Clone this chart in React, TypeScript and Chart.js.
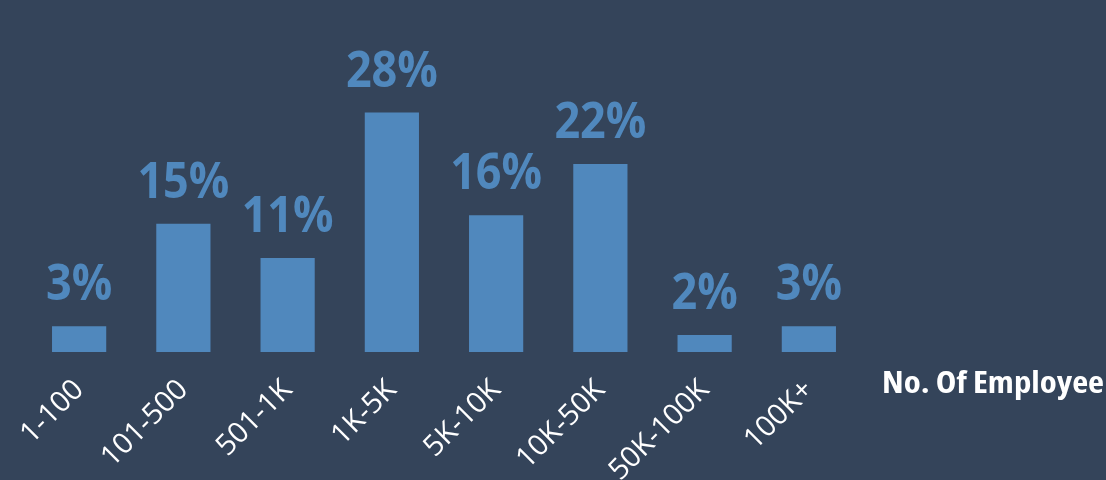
import React, { useEffect, useRef } from "react";
import { Chart, registerables } from "chart.js";

Chart.register(...registerables);

const categories = ["1-100", "101-500", "501-1K", "1K-5K", "5K-10K", "10K-50K", "50K-100K", "100K+"];
const shares = [3, 15, 11, 28, 16, 22, 2, 3];
const axisTitle = "No. Of Employee";

const BG = "#34445a";
const BAR = "#5088bd";
const LABEL = "#5088bd";

const bgPlugin = {
  id: "bg",
  beforeDraw(chart: any) {
    const { ctx, width, height } = chart;
    ctx.save();
    ctx.fillStyle = BG;
    ctx.fillRect(0, 0, width, height);
    ctx.restore();
  },
};

const labelPlugin = {
  id: "valueLabels",
  afterDatasetsDraw(chart: any) {
    const { ctx, chartArea } = chart;
    const meta = chart.getDatasetMeta(0);
    meta.data.forEach((bar: any, i: number) => {
      ctx.save();
      ctx.fillStyle = LABEL;
      ctx.font = "bold 50px 'Open Sans'";
      ctx.textAlign = "center";
      ctx.textBaseline = "alphabetic";
      ctx.translate(bar.x, bar.y - 26);
      ctx.scale(0.9, 1);
      ctx.fillText(`${shares[i]}%`, 0, 0);
      ctx.restore();
    });

    ctx.save();
    ctx.fillStyle = "#ffffff";
    ctx.font = "bold 31px 'Open Sans'";
    try {
      (ctx as any).fontStretch = "condensed";
    } catch (e) {}
    ctx.textAlign = "left";
    ctx.textBaseline = "alphabetic";
    const x0 = chartArea.right + 21;
    const target = 222;
    const w = ctx.measureText(axisTitle).width;
    ctx.translate(x0, chartArea.bottom + 41);
    ctx.scale(target / w, 1);
    ctx.fillText(axisTitle, 0, 0);
    ctx.restore();
  },
};

export default function App() {
  const ref = useRef<HTMLCanvasElement | null>(null);
  useEffect(() => {
    document.body.style.margin = "0";
    document.body.style.background = BG;
    const chart = new Chart(ref.current as HTMLCanvasElement, {
      type: "bar",
      data: {
        labels: categories,
        datasets: [
          {
            data: shares,
            backgroundColor: BAR,
            borderWidth: 0,
            categoryPercentage: 1,
            barPercentage: 0.52,
          },
        ],
      },
      options: {
        animation: false,
        responsive: false,
        devicePixelRatio: 1,
        layout: { padding: { left: 27, right: 245, top: 10, bottom: 0 } },
        plugins: { legend: { display: false }, tooltip: { enabled: false }, title: { display: false } },
        scales: {
          x: {
            grid: { display: false },
            border: { display: false },
            ticks: {
              color: "#ffffff",
              font: { family: "'Open Sans'", size: 29, weight: "normal" },
              minRotation: 45,
              maxRotation: 45,
              padding: 13,
              autoSkip: false,
            },
            afterFit(scale: any) {
              scale.height = 128;
            },
          },
          y: { display: false, min: 0, max: 40 },
        },
      },
      plugins: [bgPlugin, labelPlugin],
    });
    return () => chart.destroy();
  }, []);
  return (
    <div style={{ position: "fixed", left: 0, top: 0, width: 1106, height: 480 }}>
      <canvas ref={ref} width={1106} height={480} style={{ width: 1106, height: 480, display: "block" }} />
    </div>
  );
}
